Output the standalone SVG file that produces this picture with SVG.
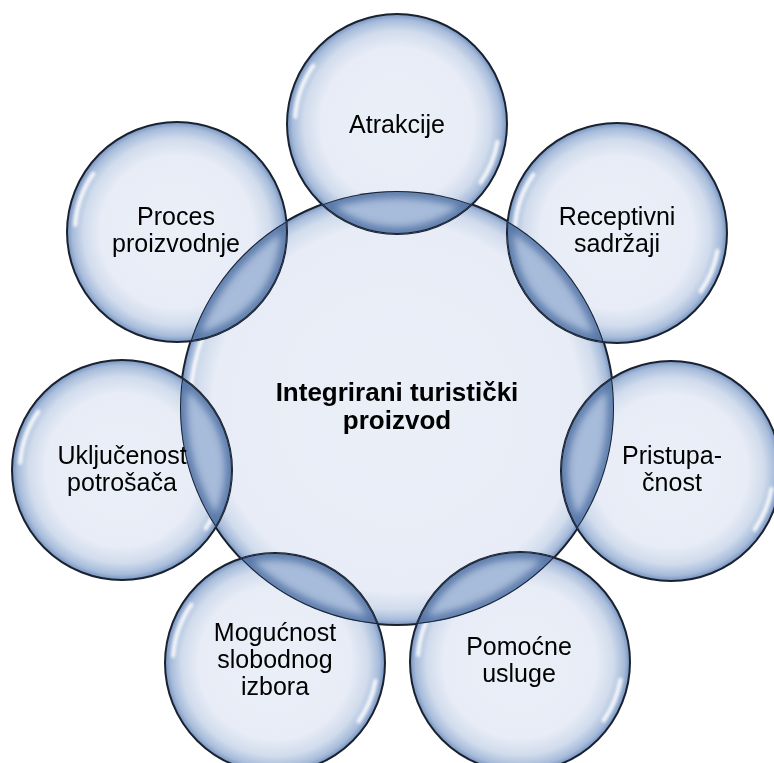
<svg xmlns="http://www.w3.org/2000/svg" xmlns:xlink="http://www.w3.org/1999/xlink" width="774" height="763" viewBox="0 0 774 763">
<style>
  .lbl { font-family: "Liberation Sans", Arial, sans-serif; font-size: 25px; fill: #000; text-anchor: middle; }
  .ctr { font-family: "Liberation Sans", Arial, sans-serif; font-size: 26px; font-weight: bold; fill: #000; text-anchor: middle; }
  .rim { fill: none; stroke: #1a2230; stroke-width: 2; }
  .hl { fill: none; stroke: #ffffff; stroke-width: 4; stroke-linecap: round; opacity: 0.9; }
  .lensfill { fill: #a7bbda; }
  .lensedge { fill: none; stroke: #5374a6; stroke-width: 14; opacity: 0.85; }
</style>
<defs>
  <radialGradient id="gSmall" cx="0.5" cy="0.5" r="0.5">
    <stop offset="0" stop-color="#eaeff8"/>
    <stop offset="0.7" stop-color="#e7ecf6"/>
    <stop offset="0.85" stop-color="#d0dbec"/>
    <stop offset="0.95" stop-color="#a6bbda"/>
    <stop offset="1" stop-color="#7592c0"/>
  </radialGradient>
  <radialGradient id="gBig" cx="0.5" cy="0.5" r="0.5">
    <stop offset="0" stop-color="#eaeff8"/>
    <stop offset="0.85" stop-color="#e7ecf6"/>
    <stop offset="0.93" stop-color="#d0dbec"/>
    <stop offset="0.977" stop-color="#a6bbda"/>
    <stop offset="1" stop-color="#7592c0"/>
  </radialGradient>
  <filter id="soft" x="-20%" y="-20%" width="140%" height="140%">
    <feGaussianBlur stdDeviation="1.6"/>
  </filter>
  <filter id="wide" x="-10%" y="-10%" width="120%" height="120%">
    <feGaussianBlur stdDeviation="3.5"/>
  </filter>
  <clipPath id="cC"><circle cx="397" cy="408" r="217"/></clipPath>
  <clipPath id="cA"><circle cx="397" cy="124" r="110"/></clipPath>
  <clipPath id="cR"><circle cx="617" cy="233" r="110"/></clipPath>
  <clipPath id="cP"><circle cx="671" cy="471" r="110"/></clipPath>
  <clipPath id="cPo"><circle cx="520" cy="662" r="110"/></clipPath>
  <clipPath id="cM"><circle cx="275" cy="663" r="110"/></clipPath>
  <clipPath id="cU"><circle cx="122" cy="470" r="110"/></clipPath>
  <clipPath id="cPr"><circle cx="177" cy="232" r="110"/></clipPath>
  <circle id="bigRing" cx="397" cy="408" r="217"/>
  <g id="bubble">
    <circle r="110" fill="url(#gSmall)"/>
    <g filter="url(#soft)">
      <path class="hl" d="M -101.8 -7.1 A 102 102 0 0 1 -83.6 -58.5"/>
      <path class="hl" d="M 100.5 17.7 A 102 102 0 0 1 83.6 58.5"/>
    </g>
    <circle r="110" class="rim"/>
  </g>
</defs>
<rect width="774" height="763" fill="#ffffff"/>

<g id="center">
  <circle cx="397" cy="408" r="217" fill="url(#gBig)"/>
  <g filter="url(#soft)">
    <path class="hl" d="M 190.3 397.2 A 207 207 0 0 1 202.5 337.2"/>
    <path class="hl" d="M 597 461.6 A 207 207 0 0 1 576.3 511.5"/>
  </g>
  <circle cx="397" cy="408" r="217" class="rim"/>
  <text class="ctr" x="397" y="401">Integrirani turistički</text>
  <text class="ctr" x="397" y="429">proizvod</text>
</g>

<g id="atrakcije">
  <use xlink:href="#bubble" x="397" y="124"/>
  <g clip-path="url(#cC)"><g clip-path="url(#cA)">
    <circle class="lensfill" cx="397" cy="124" r="110"/>
    <g filter="url(#wide)">
      <circle class="lensedge" cx="397" cy="124" r="110"/>
      <use class="lensedge" xlink:href="#bigRing"/>
    </g>
    <use class="rim" xlink:href="#bigRing"/>
    <circle class="rim" cx="397" cy="124" r="110"/>
  </g></g>
  <text class="lbl" x="397" y="133">Atrakcije</text>
</g>

<g id="receptivni">
  <use xlink:href="#bubble" x="617" y="233"/>
  <g clip-path="url(#cC)"><g clip-path="url(#cR)">
    <circle class="lensfill" cx="617" cy="233" r="110"/>
    <g filter="url(#wide)">
      <circle class="lensedge" cx="617" cy="233" r="110"/>
      <use class="lensedge" xlink:href="#bigRing"/>
    </g>
    <use class="rim" xlink:href="#bigRing"/>
    <circle class="rim" cx="617" cy="233" r="110"/>
  </g></g>
  <text class="lbl" x="617" y="225">Receptivni</text>
  <text class="lbl" x="617" y="252">sadržaji</text>
</g>

<g id="pristupacnost">
  <use xlink:href="#bubble" x="671" y="471"/>
  <g clip-path="url(#cC)"><g clip-path="url(#cP)">
    <circle class="lensfill" cx="671" cy="471" r="110"/>
    <g filter="url(#wide)">
      <circle class="lensedge" cx="671" cy="471" r="110"/>
      <use class="lensedge" xlink:href="#bigRing"/>
    </g>
    <use class="rim" xlink:href="#bigRing"/>
    <circle class="rim" cx="671" cy="471" r="110"/>
  </g></g>
  <text class="lbl" x="672" y="464">Pristupa-</text>
  <text class="lbl" x="672" y="491">čnost</text>
</g>

<g id="pomocne">
  <use xlink:href="#bubble" x="520" y="662"/>
  <g clip-path="url(#cC)"><g clip-path="url(#cPo)">
    <circle class="lensfill" cx="520" cy="662" r="110"/>
    <g filter="url(#wide)">
      <circle class="lensedge" cx="520" cy="662" r="110"/>
      <use class="lensedge" xlink:href="#bigRing"/>
    </g>
    <use class="rim" xlink:href="#bigRing"/>
    <circle class="rim" cx="520" cy="662" r="110"/>
  </g></g>
  <text class="lbl" x="519" y="655">Pomoćne</text>
  <text class="lbl" x="519" y="682">usluge</text>
</g>

<g id="mogucnost">
  <use xlink:href="#bubble" x="275" y="663"/>
  <g clip-path="url(#cC)"><g clip-path="url(#cM)">
    <circle class="lensfill" cx="275" cy="663" r="110"/>
    <g filter="url(#wide)">
      <circle class="lensedge" cx="275" cy="663" r="110"/>
      <use class="lensedge" xlink:href="#bigRing"/>
    </g>
    <use class="rim" xlink:href="#bigRing"/>
    <circle class="rim" cx="275" cy="663" r="110"/>
  </g></g>
  <text class="lbl" x="275" y="641">Mogućnost</text>
  <text class="lbl" x="275" y="668">slobodnog</text>
  <text class="lbl" x="275" y="695">izbora</text>
</g>

<g id="ukljucenost">
  <use xlink:href="#bubble" x="122" y="470"/>
  <g clip-path="url(#cC)"><g clip-path="url(#cU)">
    <circle class="lensfill" cx="122" cy="470" r="110"/>
    <g filter="url(#wide)">
      <circle class="lensedge" cx="122" cy="470" r="110"/>
      <use class="lensedge" xlink:href="#bigRing"/>
    </g>
    <use class="rim" xlink:href="#bigRing"/>
    <circle class="rim" cx="122" cy="470" r="110"/>
  </g></g>
  <text class="lbl" x="122" y="464">Uključenost</text>
  <text class="lbl" x="122" y="491">potrošača</text>
</g>

<g id="proces">
  <use xlink:href="#bubble" x="177" y="232"/>
  <g clip-path="url(#cC)"><g clip-path="url(#cPr)">
    <circle class="lensfill" cx="177" cy="232" r="110"/>
    <g filter="url(#wide)">
      <circle class="lensedge" cx="177" cy="232" r="110"/>
      <use class="lensedge" xlink:href="#bigRing"/>
    </g>
    <use class="rim" xlink:href="#bigRing"/>
    <circle class="rim" cx="177" cy="232" r="110"/>
  </g></g>
  <text class="lbl" x="176" y="225">Proces</text>
  <text class="lbl" x="176" y="252">proizvodnje</text>
</g>

<g id="connectors"></g>
</svg>
